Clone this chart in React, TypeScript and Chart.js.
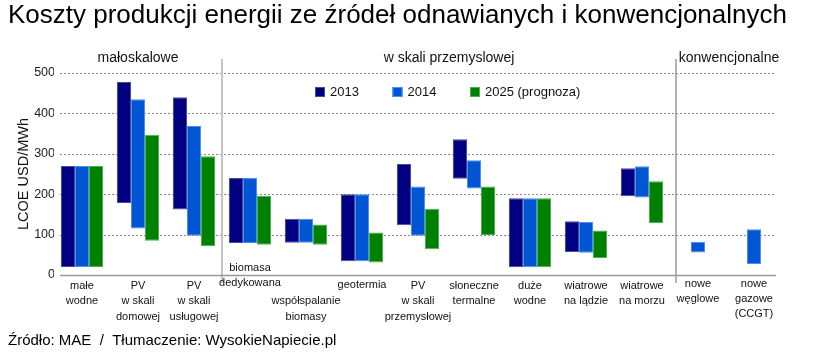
import { useEffect, useRef } from "react";
import { Chart, registerables } from "chart.js";

Chart.register(...registerables);

type Range = [number, number] | null;

const chartTitle = "Koszty produkcji energii ze źródeł odnawianych i konwencjonalnych";
const sourceNote = "Źródło: MAE  /  Tłumaczenie: WysokieNapiecie.pl";
const yAxisTitle = "LCOE USD/MWh";
const sectionLabels = ["małoskalowe", "w skali przemyslowej", "konwencjonalne"];

const categories: string[][] = [
  ["małe", "wodne"],
  ["PV", "w skali", "domowej"],
  ["PV", "w skali", "usługowej"],
  ["biomasa", "dedykowana"],
  ["", "współspalanie", "biomasy"],
  ["geotermia"],
  ["PV", "w skali", "przemysłowej"],
  ["słoneczne", "termalne"],
  ["duże", "wodne"],
  ["wiatrowe", "na lądzie"],
  ["wiatrowe", "na morzu"],
  ["nowe", "węglowe"],
  ["nowe", "gazowe", "(CCGT)"],
];

const seriesNames = ["2013", "2014", "2025 (prognoza)"];

const values2013: Range[] = [
  [20, 270], [178, 478], [162, 440], [79, 240], [80, 139], [34, 200], [123, 275],
  [238, 336], [19, 190], [57, 133], [195, 264], null, null,
];
const values2014: Range[] = [
  [20, 270], [115, 435], [97, 369], [79, 240], [80, 139], [34, 200], [97, 219],
  [214, 284], [19, 190], [55, 131], [192, 269], [56, 82], [27, 113],
];
const values2025: Range[] = [
  [20, 270], [85, 347], [72, 294], [75, 196], [75, 125], [31, 105], [64, 164],
  [99, 219], [19, 190], [42, 110], [129, 232], null, null,
];

const yTicks = [0, 100, 200, 300, 400, 500];

const COLORS = ["#000080", "#0055d4", "#008000"];
const BORDERS = ["#4a4a9c", "#4d8ee6", "#4fae4f"];
const FONT = "'Liberation Sans', Arial, Helvetica, sans-serif";

const decorPlugin = {
  id: "decor",
  beforeDatasetsDraw(chart: any) {
    const { ctx, chartArea } = chart;
    const y = chart.scales.y;
    const x = chart.scales.x;
    const gl = chartArea.left + 6;
    const gr = chartArea.right - 6;
    ctx.save();
    ctx.strokeStyle = "#8a8a8a";
    ctx.lineWidth = 1;
    ctx.setLineDash([2, 2]);
    yTicks.slice(1).forEach((t) => {
      const py = Math.round(y.getPixelForValue(t)) + 0.5;
      ctx.beginPath();
      ctx.moveTo(gl, py);
      ctx.lineTo(gr, py);
      ctx.stroke();
    });
    ctx.setLineDash([]);
    const y0 = y.getPixelForValue(0);
    const s1 = (x.getPixelForValue(2) + x.getPixelForValue(3)) / 2;
    const s2 = (x.getPixelForValue(10) + x.getPixelForValue(11)) / 2 + 6;
    ctx.strokeStyle = "#c4c4c4";
    ctx.lineWidth = 2;
    ctx.beginPath();
    ctx.moveTo(s1, chartArea.top - 14);
    ctx.lineTo(s1, y0 + 8);
    ctx.stroke();
    ctx.strokeStyle = "#9a9a9a";
    ctx.lineWidth = 1.5;
    ctx.beginPath();
    ctx.moveTo(s2, chartArea.top - 14);
    ctx.lineTo(s2, y0 + 8);
    ctx.stroke();
    ctx.strokeStyle = "#999999";
    ctx.lineWidth = 1.5;
    ctx.beginPath();
    ctx.moveTo(gl, Math.round(y0) + 0.5);
    ctx.lineTo(gr, Math.round(y0) + 0.5);
    ctx.stroke();
    ctx.restore();
  },
  afterDraw(chart: any) {
    const { ctx, chartArea } = chart;
    const x = chart.scales.x;
    const y = chart.scales.y;
    const y0 = y.getPixelForValue(0);
    ctx.save();
    ctx.textBaseline = "middle";
    ctx.fillStyle = "#000";
    ctx.font = `26px ${FONT}`;
    ctx.textAlign = "left";
    ctx.fillText(chartTitle, 8, 16);
    ctx.font = `14px ${FONT}`;
    ctx.textAlign = "center";
    ctx.fillStyle = "#111";
    const s1 = (x.getPixelForValue(2) + x.getPixelForValue(3)) / 2;
    const s2 = (x.getPixelForValue(10) + x.getPixelForValue(11)) / 2 + 6;
    const secX = [(chartArea.left + s1) / 2, (s1 + s2) / 2, (s2 + chartArea.right) / 2];
    sectionLabels.forEach((s, i) => ctx.fillText(s, secX[i], chartArea.top - 15));
    ctx.save();
    ctx.translate(24, (chartArea.top + y0) / 2);
    ctx.rotate(-Math.PI / 2);
    ctx.font = `14.5px ${FONT}`;
    ctx.fillStyle = "#111";
    ctx.fillText(yAxisTitle, 0, 0);
    ctx.restore();
    ctx.font = `13px ${FONT}`;
    ctx.textAlign = "left";
    seriesNames.forEach((name, i) => {
      const lx = 315 + i * 77.5;
      const ly = chartArea.top + 19;
      ctx.fillStyle = COLORS[i];
      ctx.fillRect(lx, ly - 5, 10, 10);
      ctx.strokeStyle = BORDERS[i];
      ctx.lineWidth = 1;
      ctx.strokeRect(lx + 0.5, ly - 4.5, 9, 9);
      ctx.fillStyle = "#111";
      ctx.fillText(name, lx + 15, ly + 0.5);
    });
    ctx.font = `11px ${FONT}`;
    ctx.textAlign = "center";
    ctx.fillStyle = "#111";
    const shift = [0, 0, 0, -18, 0, -1, 0, 0, 0, 0, 0, -2.5, -2.5];
    categories.forEach((lines, i) => {
      const cx = x.getPixelForValue(i);
      lines.forEach((ln, j) => {
        if (ln) ctx.fillText(ln, cx, y0 + 11 + shift[i] + j * 15.3);
      });
    });
    ctx.font = `15px ${FONT}`;
    ctx.textAlign = "left";
    ctx.fillStyle = "#000";
    ctx.fillText(sourceNote, 8, 341);
    ctx.restore();
  },
};

export default function App() {
  const ref = useRef<HTMLCanvasElement | null>(null);
  useEffect(() => {
    if (!ref.current) return;
    Chart.defaults.font.family = FONT;
    const chart = new Chart(ref.current, {
      type: "bar",
      data: {
        labels: categories.map((c) => c.filter(Boolean).join(" ")),
        datasets: [values2013, values2014, values2025].map((d, i) => ({
          label: seriesNames[i],
          data: d as any,
          backgroundColor: COLORS[i],
          borderColor: BORDERS[i],
          borderWidth: 1,
          borderSkipped: false,
          categoryPercentage: 0.75,
          barPercentage: 1,
        })),
      },
      options: {
        responsive: false,
        devicePixelRatio: 1,
        animation: false,
        layout: { padding: { left: 0, right: 51, top: 73, bottom: 81 } },
        plugins: {
          legend: { display: false },
          title: { display: false },
          tooltip: { enabled: false },
        },
        scales: {
          x: { type: "category", offset: true, display: false },
          y: {
            min: 0,
            max: 500,
            ticks: {
              stepSize: 100,
              padding: -1,
              color: "#222",
              font: { size: 12.5, family: FONT },
            },
            grid: { display: false, drawTicks: false, tickLength: 0 },
            border: { display: false },
            afterFit: (scale: any) => {
              scale.width = 54;
            },
          },
        },
      },
      plugins: [decorPlugin],
    });
    return () => chart.destroy();
  }, []);
  return (
    <div style={{ position: "fixed", left: 0, top: 0, width: 833, height: 356, background: "#fff" }}>
      <canvas ref={ref} width={833} height={356} style={{ display: "block" }} />
    </div>
  );
}
